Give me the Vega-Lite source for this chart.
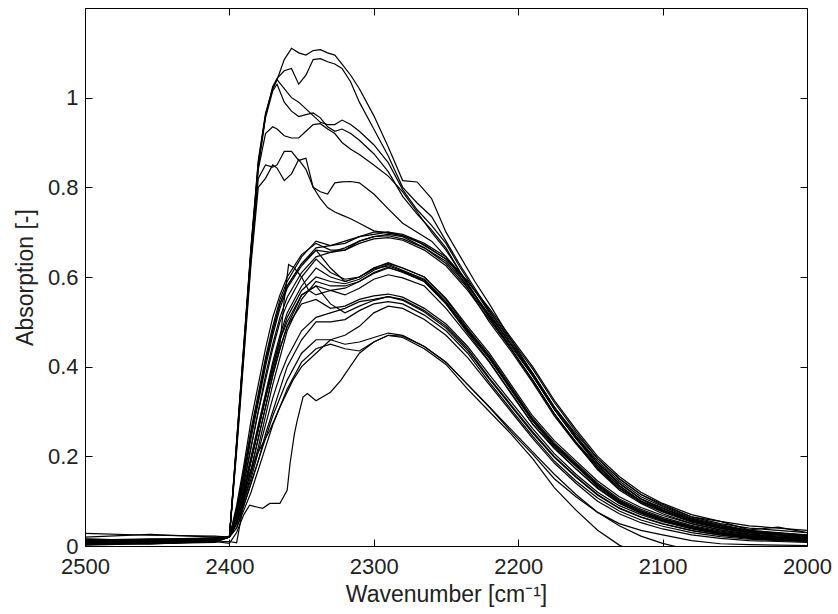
{
"$schema":"https://vega.github.io/schema/vega-lite/v6.json",
"width":722,"height":538,
"autosize":{"type":"none"},
"padding":{"left":85,"top":8,"right":31,"bottom":68},
"background":"white",
"config":{"view":{"stroke":null},"font":"Liberation Sans",
"axis":{"grid":false,"domainColor":"#000","domainWidth":1,"tickColor":"#000","tickSize":-7,"tickWidth":1,"labelFont":"Liberation Sans","labelFontSize":22,"labelColor":"#222","labelFlush":false,"labelOverlap":false,"labelBound":false,"titleFont":"Liberation Sans","titleFontSize":23,"titleFontWeight":"normal","titleColor":"#222"}},
"data":{"values":[
{"c":"H1","x":2500,"y":0.028},{"c":"H1","x":2455,"y":0.024},{"c":"H1","x":2410,"y":0.022},{"c":"H1","x":2400,"y":0.02},{"c":"H1","x":2395,"y":0.23},{"c":"H1","x":2390,"y":0.45},{"c":"H1","x":2385,"y":0.67},{"c":"H1","x":2380,"y":0.86},{"c":"H1","x":2375,"y":0.965},{"c":"H1","x":2370,"y":1.02},
{"c":"H1","x":2367,"y":1.04},{"c":"H1","x":2362,"y":1.085},{"c":"H1","x":2357,"y":1.11},{"c":"H1","x":2352,"y":1.1},{"c":"H1","x":2347,"y":1.095},{"c":"H1","x":2342,"y":1.105},{"c":"H1","x":2337,"y":1.107},{"c":"H1","x":2332,"y":1.1},{"c":"H1","x":2327,"y":1.095},{"c":"H1","x":2322,"y":1.075},{"c":"H1","x":2316,"y":1.05},{"c":"H1","x":2310,"y":1.02},{"c":"H1","x":2300,"y":0.96},{"c":"H1","x":2290,"y":0.89},{"c":"H1","x":2280,"y":0.815},{"c":"H1","x":2270,"y":0.812},{"c":"H1","x":2260,"y":0.775},{"c":"H1","x":2250,"y":0.7},{"c":"H1","x":2240,"y":0.645},{"c":"H1","x":2230,"y":0.59},{"c":"H1","x":2220,"y":0.54},{"c":"H1","x":2205,"y":0.46},{"c":"H1","x":2190,"y":0.385},{"c":"H1","x":2175,"y":0.31},{"c":"H1","x":2160,"y":0.25},{"c":"H1","x":2145,"y":0.195},{"c":"H1","x":2130,"y":0.15},{"c":"H1","x":2115,"y":0.115},{"c":"H1","x":2100,"y":0.093},{"c":"H1","x":2080,"y":0.065},{"c":"H1","x":2060,"y":0.055},{"c":"H1","x":2040,"y":0.036},{"c":"H1","x":2020,"y":0.042},{"c":"H1","x":2000,"y":0.03},
{"c":"H2","x":2500,"y":0.02},{"c":"H2","x":2455,"y":0.026},{"c":"H2","x":2410,"y":0.02},{"c":"H2","x":2400,"y":0.02},{"c":"H2","x":2395,"y":0.22},{"c":"H2","x":2390,"y":0.44},{"c":"H2","x":2385,"y":0.66},{"c":"H2","x":2380,"y":0.85},{"c":"H2","x":2375,"y":0.96},{"c":"H2","x":2370,"y":1.025},
{"c":"H2","x":2367,"y":1.043},{"c":"H2","x":2362,"y":1.06},{"c":"H2","x":2357,"y":1.065},{"c":"H2","x":2352,"y":1.03},{"c":"H2","x":2347,"y":1.05},{"c":"H2","x":2342,"y":1.085},{"c":"H2","x":2337,"y":1.087},{"c":"H2","x":2332,"y":1.08},{"c":"H2","x":2327,"y":1.075},{"c":"H2","x":2322,"y":1.065},{"c":"H2","x":2316,"y":1.035},{"c":"H2","x":2310,"y":0.99},{"c":"H2","x":2300,"y":0.93},{"c":"H2","x":2290,"y":0.87},{"c":"H2","x":2280,"y":0.8},{"c":"H2","x":2270,"y":0.765},{"c":"H2","x":2260,"y":0.735},{"c":"H2","x":2250,"y":0.68},{"c":"H2","x":2240,"y":0.625},{"c":"H2","x":2230,"y":0.575},{"c":"H2","x":2220,"y":0.525},{"c":"H2","x":2205,"y":0.455},{"c":"H2","x":2190,"y":0.385},{"c":"H2","x":2175,"y":0.31},{"c":"H2","x":2160,"y":0.245},{"c":"H2","x":2145,"y":0.19},{"c":"H2","x":2130,"y":0.145},{"c":"H2","x":2115,"y":0.11},{"c":"H2","x":2100,"y":0.088},{"c":"H2","x":2080,"y":0.062},{"c":"H2","x":2060,"y":0.048},{"c":"H2","x":2040,"y":0.035},{"c":"H2","x":2020,"y":0.03},{"c":"H2","x":2000,"y":0.025},
{"c":"H3","x":2500,"y":0.012},{"c":"H3","x":2455,"y":0.01},{"c":"H3","x":2410,"y":0.014},{"c":"H3","x":2400,"y":0.02},{"c":"H3","x":2395,"y":0.235},{"c":"H3","x":2390,"y":0.45},{"c":"H3","x":2385,"y":0.665},{"c":"H3","x":2380,"y":0.855},{"c":"H3","x":2375,"y":0.96},{"c":"H3","x":2370,"y":1.02},
{"c":"H3","x":2367,"y":1.04},{"c":"H3","x":2362,"y":1.02},{"c":"H3","x":2357,"y":1.0},{"c":"H3","x":2352,"y":0.99},{"c":"H3","x":2347,"y":0.975},{"c":"H3","x":2342,"y":0.96},{"c":"H3","x":2337,"y":0.945},{"c":"H3","x":2332,"y":0.94},{"c":"H3","x":2327,"y":0.94},{"c":"H3","x":2322,"y":0.95},{"c":"H3","x":2316,"y":0.94},{"c":"H3","x":2310,"y":0.925},{"c":"H3","x":2300,"y":0.895},{"c":"H3","x":2290,"y":0.855},{"c":"H3","x":2280,"y":0.795},{"c":"H3","x":2270,"y":0.75},{"c":"H3","x":2260,"y":0.715},{"c":"H3","x":2250,"y":0.675},{"c":"H3","x":2240,"y":0.62},{"c":"H3","x":2230,"y":0.57},{"c":"H3","x":2220,"y":0.52},{"c":"H3","x":2205,"y":0.45},{"c":"H3","x":2190,"y":0.38},{"c":"H3","x":2175,"y":0.305},{"c":"H3","x":2160,"y":0.24},{"c":"H3","x":2145,"y":0.185},{"c":"H3","x":2130,"y":0.14},{"c":"H3","x":2115,"y":0.105},{"c":"H3","x":2100,"y":0.085},{"c":"H3","x":2080,"y":0.06},{"c":"H3","x":2060,"y":0.045},{"c":"H3","x":2040,"y":0.033},{"c":"H3","x":2020,"y":0.028},{"c":"H3","x":2000,"y":0.024},
{"c":"H4","x":2500,"y":0.008},{"c":"H4","x":2455,"y":0.012},{"c":"H4","x":2410,"y":0.01},{"c":"H4","x":2400,"y":0.02},{"c":"H4","x":2395,"y":0.225},{"c":"H4","x":2390,"y":0.44},{"c":"H4","x":2385,"y":0.655},{"c":"H4","x":2380,"y":0.845},{"c":"H4","x":2375,"y":0.955},{"c":"H4","x":2370,"y":1.015},
{"c":"H4","x":2367,"y":1.03},{"c":"H4","x":2362,"y":0.99},{"c":"H4","x":2357,"y":0.97},{"c":"H4","x":2352,"y":0.958},{"c":"H4","x":2347,"y":0.962},{"c":"H4","x":2342,"y":0.966},{"c":"H4","x":2337,"y":0.955},{"c":"H4","x":2332,"y":0.935},{"c":"H4","x":2327,"y":0.925},{"c":"H4","x":2322,"y":0.93},{"c":"H4","x":2316,"y":0.92},{"c":"H4","x":2310,"y":0.905},{"c":"H4","x":2300,"y":0.875},{"c":"H4","x":2290,"y":0.835},{"c":"H4","x":2280,"y":0.78},{"c":"H4","x":2270,"y":0.74},{"c":"H4","x":2260,"y":0.705},{"c":"H4","x":2250,"y":0.665},{"c":"H4","x":2240,"y":0.61},{"c":"H4","x":2230,"y":0.56},{"c":"H4","x":2220,"y":0.51},{"c":"H4","x":2205,"y":0.44},{"c":"H4","x":2190,"y":0.37},{"c":"H4","x":2175,"y":0.295},{"c":"H4","x":2160,"y":0.232},{"c":"H4","x":2145,"y":0.178},{"c":"H4","x":2130,"y":0.134},{"c":"H4","x":2115,"y":0.1},{"c":"H4","x":2100,"y":0.08},{"c":"H4","x":2080,"y":0.057},{"c":"H4","x":2060,"y":0.042},{"c":"H4","x":2040,"y":0.031},{"c":"H4","x":2020,"y":0.026},{"c":"H4","x":2000,"y":0.021},
{"c":"H5","x":2500,"y":0.015},{"c":"H5","x":2455,"y":0.013},{"c":"H5","x":2410,"y":0.016},{"c":"H5","x":2400,"y":0.02},{"c":"H5","x":2395,"y":0.23},{"c":"H5","x":2390,"y":0.44},{"c":"H5","x":2385,"y":0.66},{"c":"H5","x":2380,"y":0.84},{"c":"H5","x":2375,"y":0.92},{"c":"H5","x":2370,"y":0.935},
{"c":"H5","x":2367,"y":0.93},{"c":"H5","x":2362,"y":0.915},{"c":"H5","x":2357,"y":0.91},{"c":"H5","x":2352,"y":0.91},{"c":"H5","x":2347,"y":0.925},{"c":"H5","x":2342,"y":0.94},{"c":"H5","x":2337,"y":0.942},{"c":"H5","x":2332,"y":0.93},{"c":"H5","x":2327,"y":0.92},{"c":"H5","x":2322,"y":0.9},{"c":"H5","x":2316,"y":0.885},{"c":"H5","x":2310,"y":0.873},{"c":"H5","x":2300,"y":0.85},{"c":"H5","x":2290,"y":0.825},{"c":"H5","x":2280,"y":0.79},{"c":"H5","x":2270,"y":0.745},{"c":"H5","x":2260,"y":0.7},{"c":"H5","x":2250,"y":0.66},{"c":"H5","x":2240,"y":0.61},{"c":"H5","x":2230,"y":0.56},{"c":"H5","x":2220,"y":0.51},{"c":"H5","x":2205,"y":0.44},{"c":"H5","x":2190,"y":0.37},{"c":"H5","x":2175,"y":0.295},{"c":"H5","x":2160,"y":0.23},{"c":"H5","x":2145,"y":0.175},{"c":"H5","x":2130,"y":0.13},{"c":"H5","x":2115,"y":0.1},{"c":"H5","x":2100,"y":0.078},{"c":"H5","x":2080,"y":0.055},{"c":"H5","x":2060,"y":0.04},{"c":"H5","x":2040,"y":0.03},{"c":"H5","x":2020,"y":0.025},{"c":"H5","x":2000,"y":0.02},
{"c":"H6","x":2500,"y":0.005},{"c":"H6","x":2455,"y":0.008},{"c":"H6","x":2410,"y":0.012},{"c":"H6","x":2400,"y":0.02},{"c":"H6","x":2395,"y":0.22},{"c":"H6","x":2390,"y":0.43},{"c":"H6","x":2385,"y":0.64},{"c":"H6","x":2380,"y":0.82},{"c":"H6","x":2375,"y":0.85},{"c":"H6","x":2370,"y":0.845},
{"c":"H6","x":2367,"y":0.85},{"c":"H6","x":2362,"y":0.88},{"c":"H6","x":2357,"y":0.88},{"c":"H6","x":2352,"y":0.86},{"c":"H6","x":2347,"y":0.865},{"c":"H6","x":2342,"y":0.8},{"c":"H6","x":2337,"y":0.79},{"c":"H6","x":2332,"y":0.785},{"c":"H6","x":2327,"y":0.81},{"c":"H6","x":2322,"y":0.812},{"c":"H6","x":2316,"y":0.813},{"c":"H6","x":2310,"y":0.81},{"c":"H6","x":2300,"y":0.785},{"c":"H6","x":2290,"y":0.752},{"c":"H6","x":2280,"y":0.72},{"c":"H6","x":2270,"y":0.7},{"c":"H6","x":2260,"y":0.68},{"c":"H6","x":2250,"y":0.645},{"c":"H6","x":2240,"y":0.6},{"c":"H6","x":2230,"y":0.55},{"c":"H6","x":2220,"y":0.5},{"c":"H6","x":2205,"y":0.435},{"c":"H6","x":2190,"y":0.365},{"c":"H6","x":2175,"y":0.29},{"c":"H6","x":2160,"y":0.228},{"c":"H6","x":2145,"y":0.172},{"c":"H6","x":2130,"y":0.128},{"c":"H6","x":2115,"y":0.097},{"c":"H6","x":2100,"y":0.076},{"c":"H6","x":2080,"y":0.053},{"c":"H6","x":2060,"y":0.039},{"c":"H6","x":2040,"y":0.029},{"c":"H6","x":2020,"y":0.024},{"c":"H6","x":2000,"y":0.019},
{"c":"H7","x":2500,"y":0.01},{"c":"H7","x":2455,"y":0.006},{"c":"H7","x":2410,"y":0.015},{"c":"H7","x":2400,"y":0.02},{"c":"H7","x":2395,"y":0.21},{"c":"H7","x":2390,"y":0.42},{"c":"H7","x":2385,"y":0.63},{"c":"H7","x":2380,"y":0.8},{"c":"H7","x":2375,"y":0.82},{"c":"H7","x":2370,"y":0.85},
{"c":"H7","x":2367,"y":0.843},{"c":"H7","x":2362,"y":0.815},{"c":"H7","x":2357,"y":0.83},{"c":"H7","x":2352,"y":0.862},{"c":"H7","x":2347,"y":0.84},{"c":"H7","x":2342,"y":0.8},{"c":"H7","x":2337,"y":0.775},{"c":"H7","x":2332,"y":0.755},{"c":"H7","x":2327,"y":0.745},{"c":"H7","x":2322,"y":0.738},{"c":"H7","x":2316,"y":0.73},{"c":"H7","x":2310,"y":0.72},{"c":"H7","x":2300,"y":0.703},{"c":"H7","x":2290,"y":0.698},{"c":"H7","x":2280,"y":0.692},{"c":"H7","x":2270,"y":0.68},{"c":"H7","x":2260,"y":0.66},{"c":"H7","x":2250,"y":0.64},{"c":"H7","x":2240,"y":0.605},{"c":"H7","x":2230,"y":0.56},{"c":"H7","x":2220,"y":0.515},{"c":"H7","x":2205,"y":0.45},{"c":"H7","x":2190,"y":0.38},{"c":"H7","x":2175,"y":0.305},{"c":"H7","x":2160,"y":0.24},{"c":"H7","x":2145,"y":0.185},{"c":"H7","x":2130,"y":0.14},{"c":"H7","x":2115,"y":0.105},{"c":"H7","x":2100,"y":0.083},{"c":"H7","x":2080,"y":0.06},{"c":"H7","x":2060,"y":0.046},{"c":"H7","x":2040,"y":0.034},{"c":"H7","x":2020,"y":0.029},{"c":"H7","x":2000,"y":0.024},
{"c":"U1","x":2500,"y":0.012},{"c":"U1","x":2455,"y":0.015},{"c":"U1","x":2410,"y":0.018},{"c":"U1","x":2400,"y":0.02},{"c":"U1","x":2395,"y":0.08},{"c":"U1","x":2390,"y":0.17},{"c":"U1","x":2385,"y":0.26},{"c":"U1","x":2380,"y":0.34},{"c":"U1","x":2375,"y":0.42},{"c":"U1","x":2370,"y":0.49},{"c":"U1","x":2365,"y":0.55},{"c":"U1","x":2360,"y":0.59},{"c":"U1","x":2350,"y":0.645},{"c":"U1","x":2340,"y":0.68},{"c":"U1","x":2330,"y":0.67},{"c":"U1","x":2320,"y":0.675},{"c":"U1","x":2310,"y":0.69},{"c":"U1","x":2300,"y":0.7},{"c":"U1","x":2290,"y":0.7},{"c":"U1","x":2280,"y":0.695},{"c":"U1","x":2265,"y":0.675},{"c":"U1","x":2250,"y":0.645},{"c":"U1","x":2235,"y":0.59},{"c":"U1","x":2220,"y":0.525},{"c":"U1","x":2205,"y":0.46},{"c":"U1","x":2190,"y":0.395},{"c":"U1","x":2175,"y":0.32},{"c":"U1","x":2160,"y":0.255},{"c":"U1","x":2145,"y":0.195},{"c":"U1","x":2130,"y":0.15},{"c":"U1","x":2115,"y":0.115},{"c":"U1","x":2100,"y":0.09},{"c":"U1","x":2080,"y":0.065},{"c":"U1","x":2060,"y":0.05},{"c":"U1","x":2040,"y":0.04},{"c":"U1","x":2020,"y":0.035},{"c":"U1","x":2000,"y":0.03},
{"c":"U2","x":2500,"y":0.006},{"c":"U2","x":2455,"y":0.009},{"c":"U2","x":2410,"y":0.012},{"c":"U2","x":2400,"y":0.02},{"c":"U2","x":2395,"y":0.07},{"c":"U2","x":2390,"y":0.15},{"c":"U2","x":2385,"y":0.24},{"c":"U2","x":2380,"y":0.32},{"c":"U2","x":2375,"y":0.4},{"c":"U2","x":2370,"y":0.47},{"c":"U2","x":2365,"y":0.53},{"c":"U2","x":2360,"y":0.575},{"c":"U2","x":2350,"y":0.625},{"c":"U2","x":2340,"y":0.66},{"c":"U2","x":2330,"y":0.655},{"c":"U2","x":2320,"y":0.665},{"c":"U2","x":2310,"y":0.68},{"c":"U2","x":2300,"y":0.69},{"c":"U2","x":2290,"y":0.695},{"c":"U2","x":2280,"y":0.69},{"c":"U2","x":2265,"y":0.665},{"c":"U2","x":2250,"y":0.635},{"c":"U2","x":2235,"y":0.58},{"c":"U2","x":2220,"y":0.515},{"c":"U2","x":2205,"y":0.45},{"c":"U2","x":2190,"y":0.385},{"c":"U2","x":2175,"y":0.31},{"c":"U2","x":2160,"y":0.245},{"c":"U2","x":2145,"y":0.185},{"c":"U2","x":2130,"y":0.14},{"c":"U2","x":2115,"y":0.105},{"c":"U2","x":2100,"y":0.08},{"c":"U2","x":2080,"y":0.058},{"c":"U2","x":2060,"y":0.043},{"c":"U2","x":2040,"y":0.033},{"c":"U2","x":2020,"y":0.028},{"c":"U2","x":2000,"y":0.022},
{"c":"U3","x":2500,"y":0.014},{"c":"U3","x":2455,"y":0.01},{"c":"U3","x":2410,"y":0.016},{"c":"U3","x":2400,"y":0.02},{"c":"U3","x":2395,"y":0.09},{"c":"U3","x":2390,"y":0.18},{"c":"U3","x":2385,"y":0.28},{"c":"U3","x":2380,"y":0.36},{"c":"U3","x":2375,"y":0.44},{"c":"U3","x":2370,"y":0.51},{"c":"U3","x":2365,"y":0.56},{"c":"U3","x":2360,"y":0.6},{"c":"U3","x":2350,"y":0.65},{"c":"U3","x":2340,"y":0.675},{"c":"U3","x":2330,"y":0.66},{"c":"U3","x":2320,"y":0.66},{"c":"U3","x":2310,"y":0.68},{"c":"U3","x":2300,"y":0.69},{"c":"U3","x":2290,"y":0.692},{"c":"U3","x":2280,"y":0.685},{"c":"U3","x":2265,"y":0.665},{"c":"U3","x":2250,"y":0.63},{"c":"U3","x":2235,"y":0.575},{"c":"U3","x":2220,"y":0.51},{"c":"U3","x":2205,"y":0.445},{"c":"U3","x":2190,"y":0.38},{"c":"U3","x":2175,"y":0.305},{"c":"U3","x":2160,"y":0.24},{"c":"U3","x":2145,"y":0.18},{"c":"U3","x":2130,"y":0.135},{"c":"U3","x":2115,"y":0.1},{"c":"U3","x":2100,"y":0.077},{"c":"U3","x":2080,"y":0.055},{"c":"U3","x":2060,"y":0.04},{"c":"U3","x":2040,"y":0.03},{"c":"U3","x":2020,"y":0.025},{"c":"U3","x":2000,"y":0.02},
{"c":"U4","x":2500,"y":0.004},{"c":"U4","x":2455,"y":0.007},{"c":"U4","x":2410,"y":0.01},{"c":"U4","x":2400,"y":0.02},{"c":"U4","x":2395,"y":0.08},{"c":"U4","x":2390,"y":0.16},{"c":"U4","x":2385,"y":0.25},{"c":"U4","x":2380,"y":0.33},{"c":"U4","x":2375,"y":0.41},{"c":"U4","x":2370,"y":0.48},{"c":"U4","x":2365,"y":0.54},{"c":"U4","x":2360,"y":0.58},{"c":"U4","x":2350,"y":0.63},{"c":"U4","x":2340,"y":0.665},{"c":"U4","x":2330,"y":0.67},{"c":"U4","x":2320,"y":0.68},{"c":"U4","x":2310,"y":0.69},{"c":"U4","x":2300,"y":0.695},{"c":"U4","x":2290,"y":0.7},{"c":"U4","x":2280,"y":0.692},{"c":"U4","x":2265,"y":0.672},{"c":"U4","x":2250,"y":0.64},{"c":"U4","x":2235,"y":0.59},{"c":"U4","x":2220,"y":0.53},{"c":"U4","x":2205,"y":0.465},{"c":"U4","x":2190,"y":0.4},{"c":"U4","x":2175,"y":0.325},{"c":"U4","x":2160,"y":0.26},{"c":"U4","x":2145,"y":0.2},{"c":"U4","x":2130,"y":0.155},{"c":"U4","x":2115,"y":0.12},{"c":"U4","x":2100,"y":0.095},{"c":"U4","x":2080,"y":0.07},{"c":"U4","x":2060,"y":0.055},{"c":"U4","x":2040,"y":0.045},{"c":"U4","x":2020,"y":0.04},{"c":"U4","x":2000,"y":0.035},
{"c":"U5","x":2500,"y":0.01},{"c":"U5","x":2455,"y":0.013},{"c":"U5","x":2410,"y":0.015},{"c":"U5","x":2400,"y":0.02},{"c":"U5","x":2395,"y":0.07},{"c":"U5","x":2390,"y":0.14},{"c":"U5","x":2385,"y":0.22},{"c":"U5","x":2380,"y":0.3},{"c":"U5","x":2375,"y":0.38},{"c":"U5","x":2370,"y":0.45},{"c":"U5","x":2365,"y":0.51},{"c":"U5","x":2360,"y":0.555},{"c":"U5","x":2350,"y":0.61},{"c":"U5","x":2340,"y":0.645},{"c":"U5","x":2330,"y":0.655},{"c":"U5","x":2320,"y":0.66},{"c":"U5","x":2310,"y":0.675},{"c":"U5","x":2300,"y":0.685},{"c":"U5","x":2290,"y":0.688},{"c":"U5","x":2280,"y":0.682},{"c":"U5","x":2265,"y":0.66},{"c":"U5","x":2250,"y":0.625},{"c":"U5","x":2235,"y":0.57},{"c":"U5","x":2220,"y":0.505},{"c":"U5","x":2205,"y":0.44},{"c":"U5","x":2190,"y":0.37},{"c":"U5","x":2175,"y":0.295},{"c":"U5","x":2160,"y":0.23},{"c":"U5","x":2145,"y":0.17},{"c":"U5","x":2130,"y":0.125},{"c":"U5","x":2115,"y":0.095},{"c":"U5","x":2100,"y":0.072},{"c":"U5","x":2080,"y":0.05},{"c":"U5","x":2060,"y":0.036},{"c":"U5","x":2040,"y":0.026},{"c":"U5","x":2020,"y":0.02},{"c":"U5","x":2000,"y":0.015},
{"c":"M1","x":2500,"y":0.008},{"c":"M1","x":2455,"y":0.011},{"c":"M1","x":2410,"y":0.014},{"c":"M1","x":2400,"y":0.02},{"c":"M1","x":2395,"y":0.08},{"c":"M1","x":2390,"y":0.16},{"c":"M1","x":2385,"y":0.25},{"c":"M1","x":2380,"y":0.33},{"c":"M1","x":2375,"y":0.41},{"c":"M1","x":2370,"y":0.48},{"c":"M1","x":2365,"y":0.54},{"c":"M1","x":2360,"y":0.58},{"c":"M1","x":2350,"y":0.63},{"c":"M1","x":2340,"y":0.66},{"c":"M1","x":2330,"y":0.62},{"c":"M1","x":2320,"y":0.59},{"c":"M1","x":2310,"y":0.6},{"c":"M1","x":2300,"y":0.62},{"c":"M1","x":2290,"y":0.63},{"c":"M1","x":2280,"y":0.62},{"c":"M1","x":2265,"y":0.6},{"c":"M1","x":2250,"y":0.55},{"c":"M1","x":2235,"y":0.485},{"c":"M1","x":2220,"y":0.425},{"c":"M1","x":2205,"y":0.355},{"c":"M1","x":2190,"y":0.285},{"c":"M1","x":2175,"y":0.23},{"c":"M1","x":2160,"y":0.185},{"c":"M1","x":2145,"y":0.14},{"c":"M1","x":2130,"y":0.105},{"c":"M1","x":2115,"y":0.082},{"c":"M1","x":2100,"y":0.064},{"c":"M1","x":2080,"y":0.046},{"c":"M1","x":2060,"y":0.033},{"c":"M1","x":2040,"y":0.025},{"c":"M1","x":2020,"y":0.02},{"c":"M1","x":2000,"y":0.017},
{"c":"M2","x":2500,"y":0.016},{"c":"M2","x":2455,"y":0.012},{"c":"M2","x":2410,"y":0.018},{"c":"M2","x":2400,"y":0.02},{"c":"M2","x":2395,"y":0.06},{"c":"M2","x":2390,"y":0.12},{"c":"M2","x":2385,"y":0.19},{"c":"M2","x":2380,"y":0.26},{"c":"M2","x":2375,"y":0.33},{"c":"M2","x":2370,"y":0.4},{"c":"M2","x":2365,"y":0.46},{"c":"M2","x":2360,"y":0.51},{"c":"M2","x":2350,"y":0.57},{"c":"M2","x":2340,"y":0.6},{"c":"M2","x":2330,"y":0.59},{"c":"M2","x":2320,"y":0.585},{"c":"M2","x":2310,"y":0.595},{"c":"M2","x":2300,"y":0.615},{"c":"M2","x":2290,"y":0.628},{"c":"M2","x":2280,"y":0.615},{"c":"M2","x":2265,"y":0.595},{"c":"M2","x":2250,"y":0.545},{"c":"M2","x":2235,"y":0.48},{"c":"M2","x":2220,"y":0.42},{"c":"M2","x":2205,"y":0.35},{"c":"M2","x":2190,"y":0.28},{"c":"M2","x":2175,"y":0.225},{"c":"M2","x":2160,"y":0.18},{"c":"M2","x":2145,"y":0.135},{"c":"M2","x":2130,"y":0.1},{"c":"M2","x":2115,"y":0.078},{"c":"M2","x":2100,"y":0.06},{"c":"M2","x":2080,"y":0.043},{"c":"M2","x":2060,"y":0.03},{"c":"M2","x":2040,"y":0.022},{"c":"M2","x":2020,"y":0.018},{"c":"M2","x":2000,"y":0.015},
{"c":"M3","x":2500,"y":0.003},{"c":"M3","x":2455,"y":0.006},{"c":"M3","x":2410,"y":0.009},{"c":"M3","x":2400,"y":0.02},{"c":"M3","x":2395,"y":0.05},{"c":"M3","x":2390,"y":0.1},{"c":"M3","x":2385,"y":0.16},{"c":"M3","x":2380,"y":0.22},{"c":"M3","x":2375,"y":0.29},{"c":"M3","x":2370,"y":0.36},{"c":"M3","x":2365,"y":0.42},{"c":"M3","x":2360,"y":0.48},{"c":"M3","x":2350,"y":0.55},{"c":"M3","x":2340,"y":0.59},{"c":"M3","x":2330,"y":0.58},{"c":"M3","x":2320,"y":0.58},{"c":"M3","x":2310,"y":0.59},{"c":"M3","x":2300,"y":0.61},{"c":"M3","x":2290,"y":0.622},{"c":"M3","x":2280,"y":0.61},{"c":"M3","x":2265,"y":0.59},{"c":"M3","x":2250,"y":0.54},{"c":"M3","x":2235,"y":0.475},{"c":"M3","x":2220,"y":0.412},{"c":"M3","x":2205,"y":0.342},{"c":"M3","x":2190,"y":0.272},{"c":"M3","x":2175,"y":0.218},{"c":"M3","x":2160,"y":0.172},{"c":"M3","x":2145,"y":0.128},{"c":"M3","x":2130,"y":0.095},{"c":"M3","x":2115,"y":0.073},{"c":"M3","x":2100,"y":0.056},{"c":"M3","x":2080,"y":0.04},{"c":"M3","x":2060,"y":0.027},{"c":"M3","x":2040,"y":0.02},{"c":"M3","x":2020,"y":0.016},{"c":"M3","x":2000,"y":0.012},
{"c":"M4","x":2500,"y":0.011},{"c":"M4","x":2455,"y":0.014},{"c":"M4","x":2410,"y":0.017},{"c":"M4","x":2400,"y":0.02},{"c":"M4","x":2395,"y":0.07},{"c":"M4","x":2390,"y":0.14},{"c":"M4","x":2385,"y":0.22},{"c":"M4","x":2380,"y":0.3},{"c":"M4","x":2375,"y":0.37},{"c":"M4","x":2370,"y":0.44},{"c":"M4","x":2365,"y":0.5},{"c":"M4","x":2360,"y":0.54},{"c":"M4","x":2350,"y":0.6},{"c":"M4","x":2340,"y":0.64},{"c":"M4","x":2330,"y":0.61},{"c":"M4","x":2320,"y":0.595},{"c":"M4","x":2310,"y":0.6},{"c":"M4","x":2300,"y":0.62},{"c":"M4","x":2290,"y":0.632},{"c":"M4","x":2280,"y":0.62},{"c":"M4","x":2265,"y":0.6},{"c":"M4","x":2250,"y":0.552},{"c":"M4","x":2235,"y":0.49},{"c":"M4","x":2220,"y":0.43},{"c":"M4","x":2205,"y":0.36},{"c":"M4","x":2190,"y":0.29},{"c":"M4","x":2175,"y":0.235},{"c":"M4","x":2160,"y":0.19},{"c":"M4","x":2145,"y":0.145},{"c":"M4","x":2130,"y":0.11},{"c":"M4","x":2115,"y":0.086},{"c":"M4","x":2100,"y":0.068},{"c":"M4","x":2080,"y":0.05},{"c":"M4","x":2060,"y":0.036},{"c":"M4","x":2040,"y":0.027},{"c":"M4","x":2020,"y":0.022},{"c":"M4","x":2000,"y":0.018},
{"c":"M5","x":2500,"y":0.007},{"c":"M5","x":2455,"y":0.004},{"c":"M5","x":2410,"y":0.011},{"c":"M5","x":2400,"y":0.02},{"c":"M5","x":2395,"y":0.05},{"c":"M5","x":2390,"y":0.11},{"c":"M5","x":2385,"y":0.17},{"c":"M5","x":2380,"y":0.24},{"c":"M5","x":2375,"y":0.31},{"c":"M5","x":2370,"y":0.38},{"c":"M5","x":2365,"y":0.44},{"c":"M5","x":2360,"y":0.49},{"c":"M5","x":2350,"y":0.56},{"c":"M5","x":2340,"y":0.58},{"c":"M5","x":2330,"y":0.57},{"c":"M5","x":2320,"y":0.575},{"c":"M5","x":2310,"y":0.59},{"c":"M5","x":2300,"y":0.608},{"c":"M5","x":2290,"y":0.62},{"c":"M5","x":2280,"y":0.612},{"c":"M5","x":2265,"y":0.59},{"c":"M5","x":2250,"y":0.54},{"c":"M5","x":2235,"y":0.478},{"c":"M5","x":2220,"y":0.418},{"c":"M5","x":2205,"y":0.348},{"c":"M5","x":2190,"y":0.278},{"c":"M5","x":2175,"y":0.222},{"c":"M5","x":2160,"y":0.178},{"c":"M5","x":2145,"y":0.133},{"c":"M5","x":2130,"y":0.098},{"c":"M5","x":2115,"y":0.076},{"c":"M5","x":2100,"y":0.058},{"c":"M5","x":2080,"y":0.041},{"c":"M5","x":2060,"y":0.029},{"c":"M5","x":2040,"y":0.021},{"c":"M5","x":2020,"y":0.017},{"c":"M5","x":2000,"y":0.013},
{"c":"M6","x":2500,"y":0.013},{"c":"M6","x":2455,"y":0.016},{"c":"M6","x":2410,"y":0.015},{"c":"M6","x":2400,"y":0.02},{"c":"M6","x":2395,"y":0.06},{"c":"M6","x":2390,"y":0.13},{"c":"M6","x":2385,"y":0.2},{"c":"M6","x":2380,"y":0.27},{"c":"M6","x":2375,"y":0.34},{"c":"M6","x":2370,"y":0.41},{"c":"M6","x":2365,"y":0.47},{"c":"M6","x":2360,"y":0.52},{"c":"M6","x":2350,"y":0.58},{"c":"M6","x":2340,"y":0.62},{"c":"M6","x":2330,"y":0.6},{"c":"M6","x":2320,"y":0.59},{"c":"M6","x":2310,"y":0.6},{"c":"M6","x":2300,"y":0.618},{"c":"M6","x":2290,"y":0.625},{"c":"M6","x":2280,"y":0.613},{"c":"M6","x":2265,"y":0.593},{"c":"M6","x":2250,"y":0.543},{"c":"M6","x":2235,"y":0.482},{"c":"M6","x":2220,"y":0.422},{"c":"M6","x":2205,"y":0.352},{"c":"M6","x":2190,"y":0.282},{"c":"M6","x":2175,"y":0.227},{"c":"M6","x":2160,"y":0.182},{"c":"M6","x":2145,"y":0.137},{"c":"M6","x":2130,"y":0.102},{"c":"M6","x":2115,"y":0.079},{"c":"M6","x":2100,"y":0.061},{"c":"M6","x":2080,"y":0.044},{"c":"M6","x":2060,"y":0.031},{"c":"M6","x":2040,"y":0.023},{"c":"M6","x":2020,"y":0.019},{"c":"M6","x":2000,"y":0.016},
{"c":"L1","x":2500,"y":0.009},{"c":"L1","x":2455,"y":0.012},{"c":"L1","x":2410,"y":0.013},{"c":"L1","x":2400,"y":0.02},{"c":"L1","x":2395,"y":0.06},{"c":"L1","x":2390,"y":0.12},{"c":"L1","x":2385,"y":0.19},{"c":"L1","x":2380,"y":0.26},{"c":"L1","x":2375,"y":0.33},{"c":"L1","x":2370,"y":0.4},{"c":"L1","x":2365,"y":0.46},{"c":"L1","x":2360,"y":0.5},{"c":"L1","x":2350,"y":0.56},{"c":"L1","x":2340,"y":0.58},{"c":"L1","x":2330,"y":0.54},{"c":"L1","x":2320,"y":0.52},{"c":"L1","x":2310,"y":0.535},{"c":"L1","x":2300,"y":0.548},{"c":"L1","x":2290,"y":0.556},{"c":"L1","x":2280,"y":0.548},{"c":"L1","x":2265,"y":0.522},{"c":"L1","x":2250,"y":0.486},{"c":"L1","x":2235,"y":0.436},{"c":"L1","x":2220,"y":0.372},{"c":"L1","x":2205,"y":0.312},{"c":"L1","x":2190,"y":0.252},{"c":"L1","x":2175,"y":0.198},{"c":"L1","x":2160,"y":0.153},{"c":"L1","x":2145,"y":0.113},{"c":"L1","x":2130,"y":0.084},{"c":"L1","x":2115,"y":0.064},{"c":"L1","x":2100,"y":0.049},{"c":"L1","x":2080,"y":0.034},{"c":"L1","x":2060,"y":0.024},{"c":"L1","x":2040,"y":0.017},{"c":"L1","x":2020,"y":0.013},{"c":"L1","x":2000,"y":0.011},
{"c":"L2","x":2500,"y":0.005},{"c":"L2","x":2455,"y":0.008},{"c":"L2","x":2410,"y":0.011},{"c":"L2","x":2400,"y":0.02},{"c":"L2","x":2395,"y":0.05},{"c":"L2","x":2390,"y":0.1},{"c":"L2","x":2385,"y":0.15},{"c":"L2","x":2380,"y":0.21},{"c":"L2","x":2375,"y":0.27},{"c":"L2","x":2370,"y":0.33},{"c":"L2","x":2365,"y":0.38},{"c":"L2","x":2360,"y":0.42},{"c":"L2","x":2350,"y":0.48},{"c":"L2","x":2340,"y":0.51},{"c":"L2","x":2330,"y":0.52},{"c":"L2","x":2320,"y":0.53},{"c":"L2","x":2310,"y":0.545},{"c":"L2","x":2300,"y":0.55},{"c":"L2","x":2290,"y":0.556},{"c":"L2","x":2280,"y":0.55},{"c":"L2","x":2265,"y":0.525},{"c":"L2","x":2250,"y":0.49},{"c":"L2","x":2235,"y":0.44},{"c":"L2","x":2220,"y":0.375},{"c":"L2","x":2205,"y":0.315},{"c":"L2","x":2190,"y":0.255},{"c":"L2","x":2175,"y":0.2},{"c":"L2","x":2160,"y":0.155},{"c":"L2","x":2145,"y":0.115},{"c":"L2","x":2130,"y":0.085},{"c":"L2","x":2115,"y":0.065},{"c":"L2","x":2100,"y":0.05},{"c":"L2","x":2080,"y":0.035},{"c":"L2","x":2060,"y":0.025},{"c":"L2","x":2040,"y":0.018},{"c":"L2","x":2020,"y":0.014},{"c":"L2","x":2000,"y":0.012},
{"c":"L3","x":2500,"y":0.012},{"c":"L3","x":2455,"y":0.009},{"c":"L3","x":2410,"y":0.014},{"c":"L3","x":2400,"y":0.02},{"c":"L3","x":2395,"y":0.04},{"c":"L3","x":2390,"y":0.09},{"c":"L3","x":2385,"y":0.14},{"c":"L3","x":2380,"y":0.19},{"c":"L3","x":2375,"y":0.25},{"c":"L3","x":2370,"y":0.3},{"c":"L3","x":2365,"y":0.35},{"c":"L3","x":2360,"y":0.4},{"c":"L3","x":2350,"y":0.46},{"c":"L3","x":2340,"y":0.5},{"c":"L3","x":2330,"y":0.5},{"c":"L3","x":2320,"y":0.505},{"c":"L3","x":2310,"y":0.525},{"c":"L3","x":2300,"y":0.54},{"c":"L3","x":2290,"y":0.545},{"c":"L3","x":2280,"y":0.54},{"c":"L3","x":2265,"y":0.515},{"c":"L3","x":2250,"y":0.48},{"c":"L3","x":2235,"y":0.43},{"c":"L3","x":2220,"y":0.365},{"c":"L3","x":2205,"y":0.305},{"c":"L3","x":2190,"y":0.245},{"c":"L3","x":2175,"y":0.19},{"c":"L3","x":2160,"y":0.145},{"c":"L3","x":2145,"y":0.107},{"c":"L3","x":2130,"y":0.078},{"c":"L3","x":2115,"y":0.058},{"c":"L3","x":2100,"y":0.044},{"c":"L3","x":2080,"y":0.03},{"c":"L3","x":2060,"y":0.021},{"c":"L3","x":2040,"y":0.015},{"c":"L3","x":2020,"y":0.012},{"c":"L3","x":2000,"y":0.01},
{"c":"L4","x":2500,"y":0.002},{"c":"L4","x":2455,"y":0.005},{"c":"L4","x":2410,"y":0.008},{"c":"L4","x":2400,"y":0.02},{"c":"L4","x":2395,"y":0.05},{"c":"L4","x":2390,"y":0.11},{"c":"L4","x":2385,"y":0.17},{"c":"L4","x":2380,"y":0.24},{"c":"L4","x":2375,"y":0.31},{"c":"L4","x":2370,"y":0.38},{"c":"L4","x":2365,"y":0.44},{"c":"L4","x":2360,"y":0.49},{"c":"L4","x":2350,"y":0.54},{"c":"L4","x":2340,"y":0.55},{"c":"L4","x":2330,"y":0.53},{"c":"L4","x":2320,"y":0.535},{"c":"L4","x":2310,"y":0.55},{"c":"L4","x":2300,"y":0.558},{"c":"L4","x":2290,"y":0.562},{"c":"L4","x":2280,"y":0.555},{"c":"L4","x":2265,"y":0.53},{"c":"L4","x":2250,"y":0.495},{"c":"L4","x":2235,"y":0.445},{"c":"L4","x":2220,"y":0.382},{"c":"L4","x":2205,"y":0.322},{"c":"L4","x":2190,"y":0.262},{"c":"L4","x":2175,"y":0.206},{"c":"L4","x":2160,"y":0.16},{"c":"L4","x":2145,"y":0.12},{"c":"L4","x":2130,"y":0.09},{"c":"L4","x":2115,"y":0.07},{"c":"L4","x":2100,"y":0.054},{"c":"L4","x":2080,"y":0.038},{"c":"L4","x":2060,"y":0.027},{"c":"L4","x":2040,"y":0.02},{"c":"L4","x":2020,"y":0.016},{"c":"L4","x":2000,"y":0.013},
{"c":"B1","x":2500,"y":0.01},{"c":"B1","x":2455,"y":0.013},{"c":"B1","x":2410,"y":0.016},{"c":"B1","x":2400,"y":0.02},{"c":"B1","x":2395,"y":0.04},{"c":"B1","x":2390,"y":0.08},{"c":"B1","x":2385,"y":0.12},{"c":"B1","x":2380,"y":0.17},{"c":"B1","x":2375,"y":0.22},{"c":"B1","x":2370,"y":0.27},{"c":"B1","x":2365,"y":0.31},{"c":"B1","x":2360,"y":0.35},{"c":"B1","x":2350,"y":0.41},{"c":"B1","x":2340,"y":0.44},{"c":"B1","x":2330,"y":0.45},{"c":"B1","x":2320,"y":0.44},{"c":"B1","x":2310,"y":0.435},{"c":"B1","x":2300,"y":0.455},{"c":"B1","x":2290,"y":0.47},{"c":"B1","x":2280,"y":0.465},{"c":"B1","x":2265,"y":0.44},{"c":"B1","x":2250,"y":0.405},{"c":"B1","x":2235,"y":0.35},{"c":"B1","x":2220,"y":0.3},{"c":"B1","x":2205,"y":0.25},{"c":"B1","x":2190,"y":0.195},{"c":"B1","x":2175,"y":0.13},{"c":"B1","x":2160,"y":0.08},{"c":"B1","x":2145,"y":0.035},{"c":"B1","x":2130,"y":0.002},{"c":"B1","x":2115,"y":-0.02},{"c":"B1","x":2100,"y":-0.035},{"c":"B1","x":2080,"y":-0.045},{"c":"B1","x":2060,"y":-0.05},{"c":"B1","x":2040,"y":-0.05},{"c":"B1","x":2020,"y":-0.05},{"c":"B1","x":2000,"y":-0.05},
{"c":"B2","x":2500,"y":0.006},{"c":"B2","x":2455,"y":0.01},{"c":"B2","x":2410,"y":0.012},{"c":"B2","x":2400,"y":0.02},{"c":"B2","x":2395,"y":0.05},{"c":"B2","x":2390,"y":0.09},{"c":"B2","x":2385,"y":0.14},{"c":"B2","x":2380,"y":0.19},{"c":"B2","x":2375,"y":0.24},{"c":"B2","x":2370,"y":0.29},{"c":"B2","x":2365,"y":0.33},{"c":"B2","x":2360,"y":0.37},{"c":"B2","x":2350,"y":0.43},{"c":"B2","x":2340,"y":0.46},{"c":"B2","x":2330,"y":0.46},{"c":"B2","x":2320,"y":0.45},{"c":"B2","x":2310,"y":0.455},{"c":"B2","x":2300,"y":0.465},{"c":"B2","x":2290,"y":0.475},{"c":"B2","x":2280,"y":0.47},{"c":"B2","x":2265,"y":0.445},{"c":"B2","x":2250,"y":0.41},{"c":"B2","x":2235,"y":0.36},{"c":"B2","x":2220,"y":0.31},{"c":"B2","x":2205,"y":0.26},{"c":"B2","x":2190,"y":0.21},{"c":"B2","x":2175,"y":0.16},{"c":"B2","x":2160,"y":0.115},{"c":"B2","x":2145,"y":0.075},{"c":"B2","x":2130,"y":0.045},{"c":"B2","x":2115,"y":0.022},{"c":"B2","x":2100,"y":0.006},{"c":"B2","x":2080,"y":-0.01},{"c":"B2","x":2060,"y":-0.02},{"c":"B2","x":2040,"y":-0.03},{"c":"B2","x":2020,"y":-0.035},{"c":"B2","x":2000,"y":-0.04},
{"c":"O1","x":2500,"y":0.008},{"c":"O1","x":2455,"y":0.006},{"c":"O1","x":2410,"y":0.01},{"c":"O1","x":2400,"y":0.006},{"c":"O1","x":2395,"y":0.03},{"c":"O1","x":2390,"y":0.07},{"c":"O1","x":2386,"y":0.091},{"c":"O1","x":2381,"y":0.087},{"c":"O1","x":2377,"y":0.084},{"c":"O1","x":2372,"y":0.095},{"c":"O1","x":2365,"y":0.095},{"c":"O1","x":2360,"y":0.124},{"c":"O1","x":2358,"y":0.184},{"c":"O1","x":2355,"y":0.25},{"c":"O1","x":2353,"y":0.28},{"c":"O1","x":2349,"y":0.332},{"c":"O1","x":2346,"y":0.34},{"c":"O1","x":2340,"y":0.324},{"c":"O1","x":2330,"y":0.343},{"c":"O1","x":2323,"y":0.369},{"c":"O1","x":2310,"y":0.43},{"c":"O1","x":2300,"y":0.455},{"c":"O1","x":2290,"y":0.47},{"c":"O1","x":2280,"y":0.468},{"c":"O1","x":2265,"y":0.445},{"c":"O1","x":2250,"y":0.41},{"c":"O1","x":2235,"y":0.36},{"c":"O1","x":2220,"y":0.31},{"c":"O1","x":2205,"y":0.255},{"c":"O1","x":2190,"y":0.205},{"c":"O1","x":2175,"y":0.15},{"c":"O1","x":2160,"y":0.11},{"c":"O1","x":2145,"y":0.075},{"c":"O1","x":2130,"y":0.05},{"c":"O1","x":2115,"y":0.035},{"c":"O1","x":2100,"y":0.025},{"c":"O1","x":2080,"y":0.012},{"c":"O1","x":2060,"y":0.005},{"c":"O1","x":2040,"y":0.003},{"c":"O1","x":2020,"y":0.002},{"c":"O1","x":2000,"y":0.001},
{"c":"O2","x":2500,"y":0.004},{"c":"O2","x":2455,"y":0.007},{"c":"O2","x":2410,"y":0.009},{"c":"O2","x":2400,"y":0.01},{"c":"O2","x":2395,"y":0.007},{"c":"O2","x":2392,"y":0.06},{"c":"O2","x":2388,"y":0.147},{"c":"O2","x":2380,"y":0.21},{"c":"O2","x":2372,"y":0.258},{"c":"O2","x":2365,"y":0.31},{"c":"O2","x":2356,"y":0.37},{"c":"O2","x":2350,"y":0.4},{"c":"O2","x":2340,"y":0.43},{"c":"O2","x":2330,"y":0.46},{"c":"O2","x":2320,"y":0.47},{"c":"O2","x":2310,"y":0.49},{"c":"O2","x":2300,"y":0.52},{"c":"O2","x":2290,"y":0.535},{"c":"O2","x":2280,"y":0.53},{"c":"O2","x":2265,"y":0.505},{"c":"O2","x":2250,"y":0.47},{"c":"O2","x":2235,"y":0.42},{"c":"O2","x":2220,"y":0.36},{"c":"O2","x":2205,"y":0.3},{"c":"O2","x":2190,"y":0.24},{"c":"O2","x":2175,"y":0.185},{"c":"O2","x":2160,"y":0.14},{"c":"O2","x":2145,"y":0.1},{"c":"O2","x":2130,"y":0.072},{"c":"O2","x":2115,"y":0.052},{"c":"O2","x":2100,"y":0.038},{"c":"O2","x":2080,"y":0.025},{"c":"O2","x":2060,"y":0.017},{"c":"O2","x":2040,"y":0.012},{"c":"O2","x":2020,"y":0.01},{"c":"O2","x":2000,"y":0.008},
{"c":"S","x":2500,"y":0.011},{"c":"S","x":2455,"y":0.008},{"c":"S","x":2410,"y":0.013},{"c":"S","x":2400,"y":0.02},{"c":"S","x":2395,"y":0.06},{"c":"S","x":2390,"y":0.12},{"c":"S","x":2385,"y":0.19},{"c":"S","x":2380,"y":0.26},{"c":"S","x":2375,"y":0.33},{"c":"S","x":2370,"y":0.39},{"c":"S","x":2365,"y":0.45},{"c":"S","x":2362,"y":0.55},{"c":"S","x":2359,"y":0.628},{"c":"S","x":2355,"y":0.62},{"c":"S","x":2350,"y":0.6},{"c":"S","x":2345,"y":0.57},{"c":"S","x":2340,"y":0.56},{"c":"S","x":2330,"y":0.57},{"c":"S","x":2320,"y":0.56},{"c":"S","x":2310,"y":0.575},{"c":"S","x":2300,"y":0.595},{"c":"S","x":2290,"y":0.605},{"c":"S","x":2280,"y":0.598},{"c":"S","x":2265,"y":0.58},{"c":"S","x":2250,"y":0.53},{"c":"S","x":2235,"y":0.47},{"c":"S","x":2220,"y":0.41},{"c":"S","x":2205,"y":0.34},{"c":"S","x":2190,"y":0.272},{"c":"S","x":2175,"y":0.218},{"c":"S","x":2160,"y":0.172},{"c":"S","x":2145,"y":0.13},{"c":"S","x":2130,"y":0.096},{"c":"S","x":2115,"y":0.074},{"c":"S","x":2100,"y":0.057},{"c":"S","x":2080,"y":0.04},{"c":"S","x":2060,"y":0.028},{"c":"S","x":2040,"y":0.02},{"c":"S","x":2020,"y":0.016},{"c":"S","x":2000,"y":0.012}
]},
"layer":[
{"mark":{"type":"line","color":"#000","strokeWidth":1.2,"clip":true,"interpolate":"linear"},
"encoding":{
"x":{"field":"x","type":"quantitative","scale":{"domain":[2000,2500],"reverse":true,"nice":false,"zero":false},
"axis":{"orient":"bottom","values":[2000,2100,2200,2300,2400,2500],"format":"d","labelPadding":17,"title":"Wavenumber [cm⁻¹]","titleY":37,"titleBaseline":"top"}},
"y":{"field":"y","type":"quantitative","scale":{"domain":[0,1.2],"nice":false,"zero":false},
"axis":{"orient":"left","values":[0,0.2,0.4,0.6,0.8,1],"format":"~g","labelPadding":14,"title":"Absorption [-]","titleAngle":-90,"titleX":-53,"titleY":269,"titleBaseline":"alphabetic","titleAlign":"center"}},
"detail":{"field":"c","type":"nominal"},
"order":{"field":"x","type":"quantitative"}}},
{"mark":{"type":"point","opacity":0},
"encoding":{
"x":{"field":"x","type":"quantitative","axis":{"orient":"top","values":[2000,2100,2200,2300,2400,2500],"labels":false,"title":null}},
"y":{"field":"y","type":"quantitative","axis":{"orient":"right","values":[0,0.2,0.4,0.6,0.8,1],"labels":false,"title":null}}}}
],
"resolve":{"axis":{"x":"independent","y":"independent"}}
}
